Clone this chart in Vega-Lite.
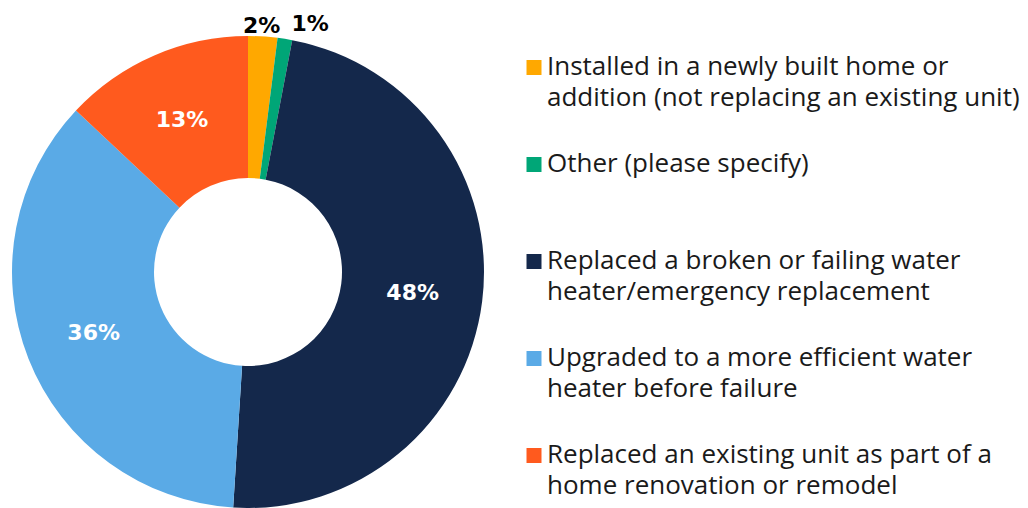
{
  "$schema": "https://vega.github.io/schema/vega-lite/v6.json",
  "width": 472,
  "height": 472,
  "autosize": "none",
  "padding": {"left": 12, "top": 36, "right": 544, "bottom": 0},
  "background": "white",
  "config": {
    "view": {"stroke": null},
    "style": {"guide-label": {"lineHeight": 30.5}}
  },
  "data": {
    "values": [
      {"idx": 1, "category": "Installed in a newly built home or\naddition (not replacing an existing unit)", "value": 2, "pct": "2%"},
      {"idx": 2, "category": "Other (please specify)", "value": 1, "pct": "1%"},
      {"idx": 3, "category": "Replaced a broken or failing water\nheater/emergency replacement", "value": 48, "pct": "48%"},
      {"idx": 4, "category": "Upgraded to a more efficient water\nheater before failure", "value": 36, "pct": "36%"},
      {"idx": 5, "category": "Replaced an existing unit as part of a\nhome renovation or remodel", "value": 13, "pct": "13%"}
    ]
  },
  "encoding": {
    "theta": {"field": "value", "type": "quantitative", "stack": true},
    "order": {"field": "idx", "type": "quantitative"}
  },
  "layer": [
    {
      "mark": {"type": "arc", "innerRadius": 94, "outerRadius": 236},
      "encoding": {
        "color": {
          "field": "category",
          "type": "nominal",
          "scale": {
            "domain": [
              "Installed in a newly built home or\naddition (not replacing an existing unit)",
              "Other (please specify)",
              "Replaced a broken or failing water\nheater/emergency replacement",
              "Upgraded to a more efficient water\nheater before failure",
              "Replaced an existing unit as part of a\nhome renovation or remodel"
            ],
            "range": ["#FFA800", "#00A677", "#14284B", "#5AAAE6", "#FF5A1E"]
          },
          "legend": {
            "title": null,
            "orient": "none",
            "legendX": 509,
            "legendY": 26,
            "padding": 0,
            "gridAlign": "all",
            "rowPadding": 40,
            "symbolType": "M-1,-2H1V0H-1Z",
            "symbolSize": 225,
            "symbolStrokeWidth": 0,
            "symbolOpacity": 1,
            "labelFont": "Open Sans",
            "labelFontSize": 26,
            "labelColor": "#1a1a1a",
            "labelBaseline": "alphabetic",
            "labelOffset": 0,
            "labelLimit": 600,
            "labelExpr": "split(datum.label, '\\n')"
          }
        }
      }
    },
    {
      "mark": {"type": "text", "radius": 166, "font": "DejaVu Sans", "fontWeight": "bold", "fontSize": 22, "fill": "white"},
      "encoding": {
        "text": {"condition": {"test": "datum.value >= 5", "field": "pct"}, "value": ""}
      }
    },
    {
      "mark": {"type": "text", "radius": 250, "dx": -2, "dy": 4, "font": "DejaVu Sans", "fontWeight": "bold", "fontSize": 22, "fill": "black"},
      "encoding": {
        "text": {"condition": {"test": "datum.value == 2", "field": "pct"}, "value": ""}
      }
    },
    {
      "mark": {"type": "text", "radius": 250, "dx": 23, "dy": -1, "font": "DejaVu Sans", "fontWeight": "bold", "fontSize": 22, "fill": "black"},
      "encoding": {
        "text": {"condition": {"test": "datum.value == 1", "field": "pct"}, "value": ""}
      }
    }
  ]
}
